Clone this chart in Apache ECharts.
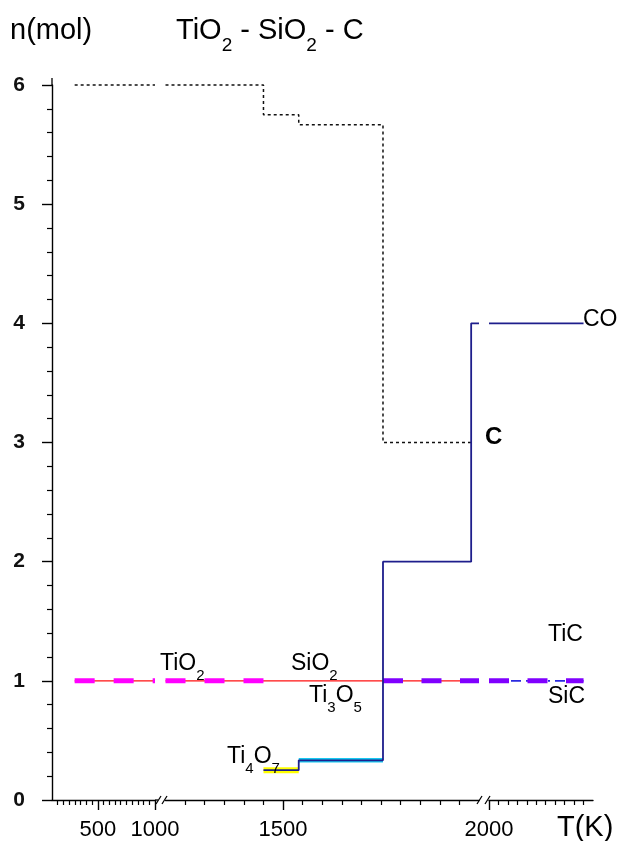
<!DOCTYPE html>
<html>
<head>
<meta charset="utf-8">
<script src="https://cdn.jsdelivr.net/npm/echarts@6/dist/echarts.min.js"></script>
<style>
html, body { margin: 0; padding: 0; background: #fff; }
#chart { width: 627px; height: 841px; }
</style>
</head>
<body>
<div id="chart"></div>
<script>
// Equilibrium amounts n (mol) of the TiO2 - SiO2 - C system versus T (K).
// Each species is a step profile: t[i]..t[i+1] is a plateau at value n[i].
const tC     = [298, 1450, 1540, 1755, 1980];
const nC     = [6, 5.75, 5.667, 3];
const tCO    = [1450, 1540, 1755, 1980, 3000];
const nCO    = [0.25, 0.333, 2, 4];
const tTiO2  = [298, 1450];
const nTiO2  = [1];
const tTi4O7 = [1450, 1540];
const nTi4O7 = [0.25];
const tTi3O5 = [1540, 1755];
const nTi3O5 = [0.333];
const tSiO2  = [298, 1980];
const nSiO2  = [1];
const tTiC   = [1755, 3000];
const nTiC   = [1];
const tSiC   = [1980, 3000];
const nSiC   = [1];

// Broken temperature axis: three segments
const segMin = [100, 1200, 2000];
const segMax = [1000, 2000, 3100];
const minorTicks = [
  [150, 200, 250, 300, 350, 400, 450, 550, 600, 650, 700, 750, 800, 850, 900, 950],
  [1250, 1300, 1350, 1400, 1450, 1550, 1600, 1650, 1700, 1750, 1800, 1850, 1900, 1950],
  [2100, 2200, 2300, 2400, 2500, 2600, 2700, 2800, 2900, 3000]
];
const majorTicks = [[500, 1000], [1500], [2000]];
const tickLabels = [[500, 1000], [1500], [2000]];

// n axis
const nMin = 0, nMax = 6, nStep = 1;

// ---- layout ----
const FONT = 'Liberation Sans, Arial, Helvetica, sans-serif';
const plotTop = 85, plotBottom = 800;
const segLeft = [52, 165.5, 489];
const segRight = [155, 479, 593];

const grids = segLeft.map((l, k) => ({
  left: l, width: segRight[k] - l, top: plotTop, height: plotBottom - plotTop
}));

const xAxes = [];
segMin.forEach((mn, k) => {
  xAxes.push({
    type: 'value', gridIndex: k, min: mn, max: segMax[k], position: 'bottom',
    axisLine: { onZero: false, lineStyle: { color: '#000', width: 1.4 } },
    axisTick: { show: true, inside: false, length: 5, customValues: minorTicks[k],
                lineStyle: { color: '#000', width: 1.2 } },
    axisLabel: { show: true, customValues: tickLabels[k], margin: 19,
                 formatter: v => String(v),
                 fontFamily: FONT, fontSize: 22, color: '#000' },
    splitLine: { show: false }
  });
  xAxes.push({
    type: 'value', gridIndex: k, min: mn, max: segMax[k], position: 'bottom',
    axisLine: { show: false, onZero: false },
    axisTick: { show: true, inside: false, length: 10, customValues: majorTicks[k],
                lineStyle: { color: '#000', width: 1.4 } },
    axisLabel: { show: false },
    splitLine: { show: false }
  });
});

const yAxes = segMin.map((_, k) => ({
  type: 'value', gridIndex: k, min: nMin, max: nMax, interval: nStep,
  show: k === 0,
  axisLine: { show: true, onZero: false, lineStyle: { color: '#000', width: 1.4 } },
  axisTick: { show: true, inside: false, length: 10, lineStyle: { color: '#000', width: 1.4 } },
  minorTick: { show: true, splitNumber: 5, length: 5, lineStyle: { color: '#000', width: 1.2 } },
  axisLabel: { margin: 27, fontFamily: FONT, fontSize: 21, fontWeight: 'bold', color: '#111' },
  splitLine: { show: false }
}));

// Step profile -> polyline points inside [a, b]
function stepPoints(t, n, a, b) {
  const pts = [];
  for (let i = 0; i < n.length; i++) {
    const x0 = Math.max(t[i], a), x1 = Math.min(t[i + 1], b);
    if (x1 <= x0) continue;
    pts.push([x0, n[i]], [x1, n[i]]);
  }
  return pts;
}

const profiles = [
  { name: 'Ti4O7', t: tTi4O7, n: nTi4O7, z: 2, style: { color: '#ffff00', width: 6, type: 'solid' } },
  { name: 'Ti3O5', t: tTi3O5, n: nTi3O5, z: 2, style: { color: '#18c8f0', width: 4.5, type: 'solid' } },
  { name: 'SiO2',  t: tSiO2,  n: nSiO2,  z: 3, style: { color: '#ff1010', width: 1.3, type: 'solid' } },
  { name: 'SiC',   t: tSiC,   n: nSiC,   z: 3, style: { color: '#2a2ae0', width: 1.6, type: [10, 5, 2, 5] } },
  { name: 'TiO2',  t: tTiO2,  n: nTiO2,  z: 4, style: { color: '#ff00ff', width: 5, type: [20, 19] } },
  { name: 'TiC',   t: tTiC,   n: nTiC,   z: 4, style: { color: '#8000ff', width: 5, type: [20, 18.5] } },
  { name: 'C',     t: tC,     n: nC,     z: 5, style: { color: '#111', width: 1.5, type: [3, 3] } },
  { name: 'CO',    t: tCO,    n: nCO,    z: 6, style: { color: '#1e1e8c', width: 1.8, type: 'solid' } }
];

const series = [];
profiles.forEach(p => {
  segMin.forEach((mn, k) => {
    const pts = stepPoints(p.t, p.n, mn, segMax[k]);
    if (!pts.length) return;
    series.push({
      name: p.name, type: 'line', xAxisIndex: 2 * k, yAxisIndex: k,
      data: pts, showSymbol: false, symbol: 'none', clip: false, silent: true,
      z: p.z, lineStyle: Object.assign({ cap: 'butt' }, p.style)
    });
  });
});

// Formula text with subscripts: "Ti_4O_7"
function formula(src, fs, bold) {
  const tokens = [];
  let i = 0, buf = '';
  while (i < src.length) {
    if (src[i] === '_') {
      if (buf) { tokens.push('{m|' + buf + '}'); buf = ''; }
      tokens.push('{s|' + src[i + 1] + '}');
      i += 2;
    } else { buf += src[i]; i++; }
  }
  if (buf) tokens.push('{m|' + buf + '}');
  const sfs = Math.round(fs * 0.65);
  return {
    text: tokens.join(''),
    verticalAlign: 'top', align: 'left',
    rich: {
      m: { fontFamily: FONT, fontSize: fs, fontWeight: bold ? 'bold' : 'normal', lineHeight: fs,
           verticalAlign: 'top', fill: '#000' },
      s: { fontFamily: FONT, fontSize: sfs, lineHeight: sfs, padding: [Math.round(fs * 0.68), 0, 0, 0],
           verticalAlign: 'top', fill: '#000' }
    }
  };
}
function label(src, x, y, fs, bold) {
  return { type: 'text', x: x, y: y, z: 100, silent: true, style: formula(src, fs, bold) };
}

const blk = { stroke: '#000', lineWidth: 1.3, fill: null };
const graphic = [
  label('n(mol)', 10, 16, 29),
  label('TiO_2 - SiO_2 - C', 176, 16, 29),
  label('T(K)', 557, 813, 29),
  label('TiO_2', 160, 652, 23),
  label('SiO_2', 291, 652, 23),
  label('Ti_3O_5', 309, 684, 23),
  label('Ti_4O_7', 227, 745, 23),
  label('TiC', 548, 623, 23),
  label('SiC', 548, 685, 23),
  label('CO', 583, 308, 23),
  label('C', 485, 425, 24, true),
  // y axis line runs a little past the top tick
  { type: 'line', silent: true, shape: { x1: segLeft[0], y1: plotTop - 7, x2: segLeft[0], y2: plotTop }, style: blk },
  // axis break marks
  { type: 'line', silent: true, shape: { x1: segRight[0], y1: plotBottom, x2: 158, y2: plotBottom }, style: blk },
  { type: 'line', silent: true, shape: { x1: 156, y1: 804, x2: 161, y2: 796 }, style: blk },
  { type: 'line', silent: true, shape: { x1: 162, y1: 804, x2: 167, y2: 796 }, style: blk },
  { type: 'line', silent: true, shape: { x1: 477, y1: 804, x2: 482, y2: 796 }, style: blk },
  { type: 'line', silent: true, shape: { x1: 485, y1: 804, x2: 490, y2: 796 }, style: blk }
];

const chart = echarts.init(document.getElementById('chart'), null, { renderer: 'canvas' });
chart.setOption({
  animation: false,
  backgroundColor: '#fff',
  grid: grids,
  xAxis: xAxes,
  yAxis: yAxes,
  series: series,
  graphic: graphic
});
</script>
</body>
</html>
